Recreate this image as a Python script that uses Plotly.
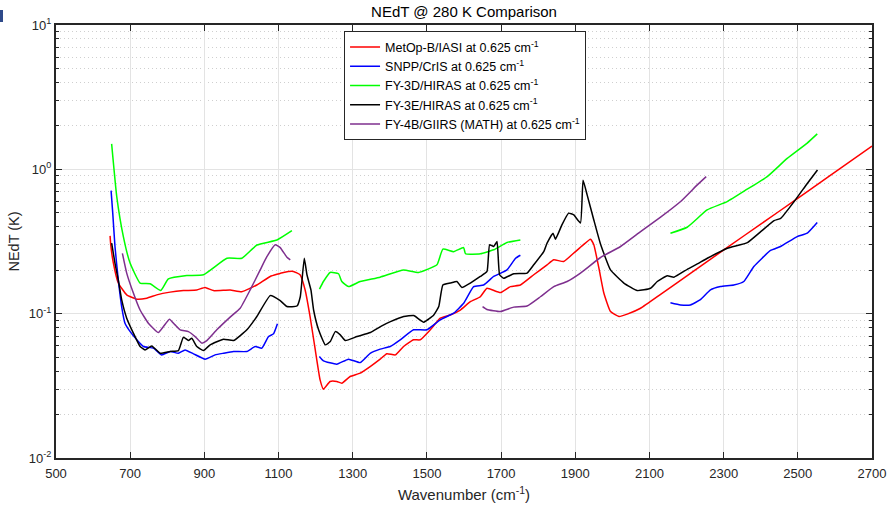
import plotly.graph_objects as go

# ---------------- data ----------------
iasi_wn = [645.8, 647.6, 654.7, 668, 690.7, 717.7, 744.7, 771.7, 807.6, 843.6, 879.6, 902, 924.4, 969.4, 1001,
           1041.5, 1077.5, 1113.5, 1140, 1158, 1171.7, 1185, 1199, 1212, 1221, 1239, 1257, 1270.6, 1293, 1320,
           1347, 1374, 1392, 1415, 1437, 1464, 1482, 1509, 1536, 1563, 1590, 1617, 1644, 1662, 1698, 1725,
           1752, 1788, 1824, 1842, 1869, 1896, 1919, 1941, 1950, 1964, 1977, 1995, 2018, 2040, 2076, 2130,
           2220, 2310, 2400, 2490, 2580, 2700]
iasi_nedt = [0.346, 0.299, 0.224, 0.163, 0.135, 0.126, 0.128, 0.135, 0.141, 0.1445, 0.146, 0.152, 0.1445, 0.146, 0.142,
             0.158, 0.181, 0.193, 0.196, 0.186, 0.146, 0.0955, 0.0561, 0.0348, 0.030, 0.0339, 0.0339, 0.033, 0.0367, 0.0387,
             0.043, 0.0484, 0.0527, 0.0518, 0.0592, 0.0659, 0.0659, 0.0773, 0.0931, 0.098, 0.106, 0.121, 0.131, 0.150, 0.140, 0.154,
             0.158, 0.186, 0.218, 0.236, 0.230, 0.263, 0.296, 0.328, 0.300, 0.205, 0.139, 0.1034, 0.0955, 0.0992, 0.109, 0.136,
             0.198, 0.288, 0.417, 0.605, 0.879, 1.45]

cris_wn = [[648.5, 653, 659, 668, 677, 686, 700, 718, 735.7, 762.6, 785, 807.7, 830, 848, 870.5, 902, 929, 951.7,
            978.6, 1014.6, 1037, 1055, 1073, 1086.6, 1097],
           [1210, 1221, 1257, 1288.6, 1320, 1347, 1374, 1401, 1428, 1464, 1500, 1536, 1572, 1599, 1626, 1653, 1680,
            1716, 1739, 1752],
           [2156.6, 2183.5, 2210.5, 2237.5, 2264.5, 2291.5, 2327.4, 2354.4, 2381.4, 2426.4, 2453.4, 2498.4, 2525.4, 2552.4]]
cris_nedt = [[0.712, 0.497, 0.292, 0.171, 0.112, 0.0859, 0.0751, 0.0659, 0.0592, 0.0577, 0.0518, 0.0547, 0.0532, 0.0561,
              0.0527, 0.0484, 0.0518, 0.0532, 0.0547, 0.0547, 0.0592, 0.0577, 0.0694, 0.0725, 0.085],
             [0.0505, 0.0471, 0.0447, 0.0484, 0.0458, 0.0531, 0.0568, 0.0592, 0.0659, 0.0773, 0.0773, 0.0906, 0.1007,
              0.118, 0.154, 0.158, 0.181, 0.201, 0.242, 0.254],
             [0.119, 0.115, 0.115, 0.125, 0.146, 0.154, 0.158, 0.167, 0.212, 0.274, 0.292, 0.342, 0.361, 0.428]]

hiras3d_wn = [[650, 663.8, 681.6, 699.7, 726.7, 753.7, 782.6, 803, 852.7, 897.6, 960.8, 1001, 1041.8, 1095.7, 1136],
              [1210.4, 1221, 1239, 1261.7, 1270.6, 1288.6, 1320, 1374, 1437, 1477.5, 1527, 1543, 1572, 1599, 1604,
               1644, 1680, 1716, 1752],
              [2156.6, 2201.6, 2255.5, 2309.5, 2363.5, 2417.4, 2471.4, 2525.4, 2552.4]]
hiras3d_nedt = [[1.50, 0.647, 0.342, 0.224, 0.163, 0.161, 0.1445, 0.174, 0.1836, 0.186, 0.242, 0.242, 0.299, 0.324, 0.376],
                [0.148, 0.167, 0.193, 0.189, 0.167, 0.154, 0.167, 0.179, 0.201, 0.193, 0.218, 0.280, 0.269, 0.287, 0.260,
                 0.260, 0.277, 0.311, 0.324],
                [0.361, 0.397, 0.523, 0.598, 0.728, 0.890, 1.19, 1.52, 1.76]]

hiras3e_wn = [650, 659, 668, 677, 690.6, 708.6, 726.7, 740, 758, 780.8, 807.7, 830, 843.6, 857, 866, 879.6, 897.6,
              915.6, 951.7, 978.6, 1014.6, 1041.5, 1077.5, 1104.5, 1122.6, 1149.6, 1158.6, 1169.4, 1176.6, 1187.3,
              1194.5, 1208, 1226, 1239.5, 1253, 1266.5, 1280, 1311.4, 1347.6, 1374.6, 1401.6, 1437.5, 1464.5, 1491.5,
              1518.5, 1532, 1543, 1563, 1581, 1594.4, 1617, 1644, 1662, 1669, 1680, 1689, 1696, 1707, 1734, 1770,
              1788, 1815, 1824, 1840, 1846.5, 1864, 1882, 1896, 1914, 1921, 1932, 1950, 1968, 1995, 2031, 2067, 2103,
              2121, 2148, 2166, 2202, 2229, 2256, 2310, 2364, 2400, 2436, 2454, 2490, 2526, 2553]
hiras3e_nedt = [0.308, 0.224, 0.171, 0.125, 0.0931, 0.0733, 0.0592, 0.0561, 0.0598, 0.0532, 0.0547, 0.0555, 0.0688,
                0.0651, 0.0676, 0.0592, 0.0555, 0.0608, 0.0666, 0.0651, 0.0773, 0.0955, 0.1334, 0.123, 0.112, 0.113,
                0.131, 0.242, 0.186, 0.146, 0.106, 0.0773, 0.0608, 0.0641, 0.0751, 0.0713, 0.0651, 0.0694, 0.074,
                0.0814, 0.0881, 0.0955, 0.097, 0.0873, 0.098, 0.112, 0.158, 0.163, 0.167, 0.152, 0.163, 0.181, 0.196,
                0.300, 0.292, 0.316, 0.186, 0.176, 0.189, 0.191, 0.218, 0.269, 0.308, 0.361, 0.328, 0.412, 0.497, 0.483,
                0.425, 0.84, 0.665, 0.446, 0.304, 0.201, 0.163, 0.1445, 0.150, 0.167, 0.183, 0.179, 0.203, 0.221,
                0.242, 0.284, 0.311, 0.370, 0.441, 0.458, 0.598, 0.801, 0.99]

giirs_wn = [[679, 690.6, 708.6, 726.7, 749, 776, 789.6, 805.8, 821, 834.6, 857, 875, 893, 906.6, 933.5, 969.5, 996.5,
             1023.5, 1050.5, 1068.5, 1091, 1104.5, 1122.6, 1131.6],
            [1650, 1662, 1698, 1734, 1770, 1806, 1842, 1878, 1914, 1968, 2022, 2076, 2130, 2184, 2229, 2253]]
giirs_nedt = [[0.262, 0.191, 0.139, 0.106, 0.0859, 0.074, 0.0814, 0.0916, 0.0836, 0.0773, 0.0751, 0.0694, 0.0625,
               0.0651, 0.0773, 0.0946, 0.109, 0.146, 0.201, 0.248, 0.300, 0.287, 0.246, 0.236],
              [0.112, 0.107, 0.1034, 0.111, 0.113, 0.131, 0.154, 0.167, 0.191, 0.245, 0.292, 0.370, 0.466, 0.598, 0.780, 0.890]]

series_names = ["MetOp-B/IASI at 0.625 cm<sup>-1</sup>",
                "SNPP/CrIS at 0.625 cm<sup>-1</sup>",
                "FY-3D/HIRAS at 0.625 cm<sup>-1</sup>",
                "FY-3E/HIRAS at 0.625 cm<sup>-1</sup>",
                "FY-4B/GIIRS (MATH) at 0.625 cm<sup>-1</sup>"]
series_colors = ["#FF0000", "#0000FF", "#00FF00", "#000000", "#7E2F8E"]

x_ticks = list(range(500, 2701, 200))
y_tickvals = [0.01, 0.1, 1, 10]
y_ticktext = ["10<sup>-2</sup>", "10<sup>-1</sup>", "10<sup>0</sup>", "10<sup>1</sup>"]


def join_segments(wn_segs, val_segs):
    xs, ys = [], []
    for i, (a, b) in enumerate(zip(wn_segs, val_segs)):
        if i > 0:
            xs.append(None)
            ys.append(None)
        xs.extend(a)
        ys.extend(b)
    return xs, ys


datasets = [
    (iasi_wn, iasi_nedt),
    join_segments(cris_wn, cris_nedt),
    join_segments(hiras3d_wn, hiras3d_nedt),
    (hiras3e_wn, hiras3e_nedt),
    join_segments(giirs_wn, giirs_nedt),
]

fig = go.Figure()
for (xs, ys), name, col in zip(datasets, series_names, series_colors):
    fig.add_trace(go.Scatter(x=xs, y=ys, mode="lines", name=name,
                             line=dict(color=col, width=1.5, shape="spline", smoothing=0.4),
                             connectgaps=False))

minor_vals = []
for dec in [0.01, 0.1, 1]:
    for k in range(2, 10):
        minor_vals.append(dec * k)

font_fam = "Liberation Sans, Arial, Helvetica, sans-serif"
fig.update_layout(
    width=887, height=505,
    margin=dict(l=56, r=15, t=25, b=47),
    paper_bgcolor="white", plot_bgcolor="white",
    font=dict(family=font_fam, size=13, color="#262626"),
    title=dict(text="NEdT @ 280 K Comparison", x=0.5, xref="paper", xanchor="center",
               y=0.977, yanchor="middle", font=dict(size=15, color="#000000")),
    legend=dict(x=0.353, y=0.985, xanchor="left", yanchor="top",
                bgcolor="white", bordercolor="#262626", borderwidth=1,
                font=dict(size=12.5, color="#000000"), itemwidth=30, tracegroupgap=0),
    showlegend=True,
    shapes=[dict(type="rect", xref="paper", yref="paper",
                 x0=-56 / 816, x1=-53 / 816, y0=(458 - 22) / 433, y1=(458 - 10) / 433,
                 fillcolor="#2F4A8A", line=dict(width=0))],
)
fig.update_xaxes(
    range=[500, 2700], tickmode="array", tickvals=x_ticks, ticktext=[str(v) for v in x_ticks],
    showgrid=True, gridcolor="#E3E3E3", gridwidth=1, automargin=False,
    ticks="inside", ticklen=6, tickwidth=1, tickcolor="#262626", ticklabelstandoff=2,
    showline=True, linecolor="#262626", linewidth=2, mirror="allticks",
    zeroline=False,
    title=dict(text="Wavenumber (cm<sup>-1</sup>)", standoff=10, font=dict(size=15)),
)
fig.update_yaxes(
    type="log", range=[-2, 1], tickmode="array", tickvals=y_tickvals, ticktext=y_ticktext,
    showgrid=True, gridcolor="#E3E3E3", gridwidth=1, automargin=False,
    ticks="inside", ticklen=6, tickwidth=1, tickcolor="#262626",
    showline=True, linecolor="#262626", linewidth=2, mirror="allticks",
    zeroline=False,
    minor=dict(tickmode="array", tickvals=minor_vals, ticks="inside", ticklen=3, tickcolor="#262626",
               showgrid=True, gridcolor="#CFCFCF", griddash="1px,3px", gridwidth=1),
    title=dict(text="NEdT (K)", standoff=6, font=dict(size=14.5)),
)

fig.write_html("out.html")
